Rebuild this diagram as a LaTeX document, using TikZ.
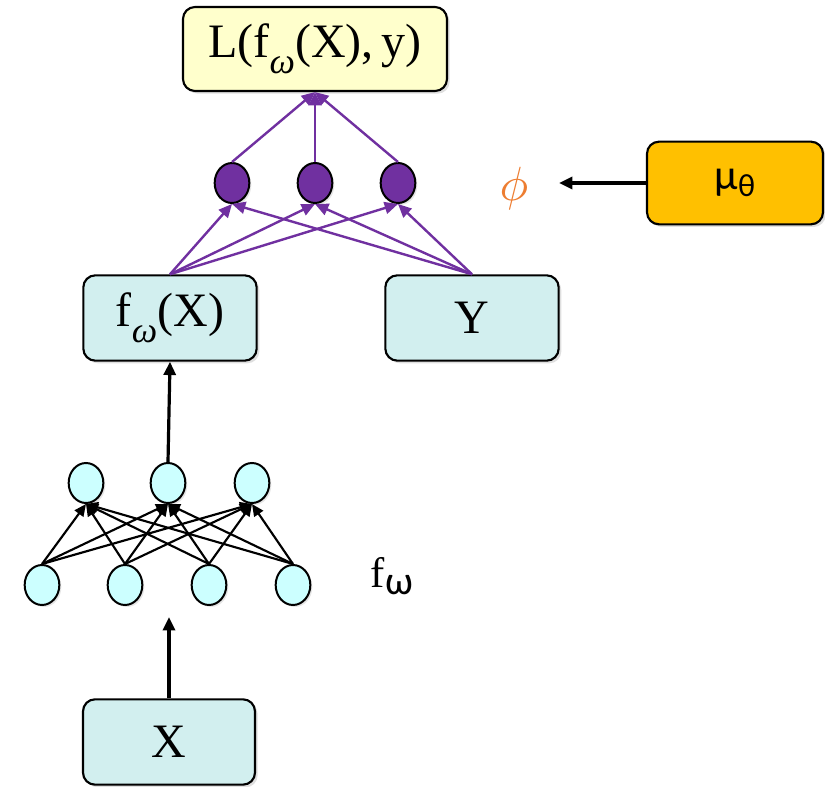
\documentclass[tikz,border=0pt]{standalone}
\usepackage{graphicx}
\usepackage{fontspec}
\setmainfont{Liberation Serif}
\newfontfamily\greeksans{Carlito}
\usetikzlibrary{shapes.geometric,arrows.meta,shadows}
\definecolor{boxcyan}{HTML}{D2EFEF}
\definecolor{boxyellow}{HTML}{FFFFCC}
\definecolor{boxgold}{HTML}{FFC000}
\definecolor{unitcyan}{HTML}{CCFFFF}
\definecolor{violet}{HTML}{7030A0}
\definecolor{phiorange}{HTML}{ED7D31}
% lowered, smaller subscript text
\newcommand{\lowsub}[2]{\raisebox{-0.35ex}{\fontsize{#1}{#1}\selectfont #2}}
\newcommand{\omsub}{\raisebox{-0.33em}{\fontsize{27}{27}\selectfont\itshape ω}}
\tikzset{
  card/.style={draw=black, line width=1.6pt, rounded corners=9pt,
    font=\fontsize{36}{40}\selectfont, inner sep=0pt,
    drop shadow={opacity=0.25, shadow xshift=2pt, shadow yshift=-2pt}},
  unit/.style={ellipse, draw=black, line width=1.5pt, fill=unitcyan,
    minimum width=26pt, minimum height=30pt, inner sep=0pt,
    drop shadow={opacity=0.2, shadow xshift=1.5pt, shadow yshift=-1.5pt}},
  pool/.style={unit, fill=violet},
  link/.style={line width=1.6pt, -{Triangle[length=9pt,width=8pt]}},
  vlink/.style={draw=violet, line width=1.8pt, -{Triangle[length=10pt,width=9pt]}, violet},
  flow/.style={line width=2.4pt, -{Triangle[length=10pt,width=9pt]}}
}
\begin{document}
\begin{tikzpicture}[x=0.75pt, y=-0.75pt]
\useasboundingbox (0,0) rectangle (825,787);

% boxes
\node[card, fill=boxyellow, minimum width=198pt, minimum height=63pt] (loss) at (315,49) {L(f\omsub(X),\,y)};
\node[card, fill=boxcyan, minimum width=130pt, minimum height=64pt] (fx) at (170,318) {f\omsub(X)};
\node[card, fill=boxcyan, minimum width=130pt, minimum height=64pt] (y) at (472,318) {Y};
\node[card, fill=boxcyan, minimum width=129pt, minimum height=64pt] (x) at (169,742) {X};
\node[card, fill=boxgold, minimum width=132pt, minimum height=62pt, font=\fontsize{32}{36}\greeksans] (mu) at (735,183) {μ\lowsub{24}{θ}};

% purple pooling units
\node[pool] (p1) at (232,183) {};
\node[pool] (p2) at (315,183) {};
\node[pool] (p3) at (398,183) {};

% phi label
\node[text=phiorange] (phi) at (514,189) {\scalebox{3.6}{$\phi$}};
\coordinate (phiend) at (559,183);

% network layers
\node[unit] (h1) at (86,483) {};
\node[unit] (h2) at (168,483) {};
\node[unit] (h3) at (252,483) {};
\node[unit] (i1) at (42,585) {};
\node[unit] (i2) at (125,585) {};
\node[unit] (i3) at (209,585) {};
\node[unit] (i4) at (293,585) {};
\node[font=\fontsize{32}{34}\selectfont] (flabel) at (392,576) {f{\greeksans\lowsub{30}{ω}}};

% connections in the network
\foreach \i in {1,2,3,4}
  \foreach \h in {1,2,3}
    \draw[link] (i\i.north) -- (h\h.south);

% purple connections
\foreach \p in {1,2,3} {
  \draw[vlink] (fx.north) -- (p\p.south);
  \draw[vlink] (y.north) -- (p\p.south);
  \draw[vlink] (p\p.north) -- (loss.south);
}

% main flow
\coordinate (xin) at (169,617);
\draw[flow] (x.north) -- (xin);
\draw[flow] (h2.north) -- (fx.south);
\draw[flow] (mu.west) -- (phiend);
\end{tikzpicture}
\end{document}
